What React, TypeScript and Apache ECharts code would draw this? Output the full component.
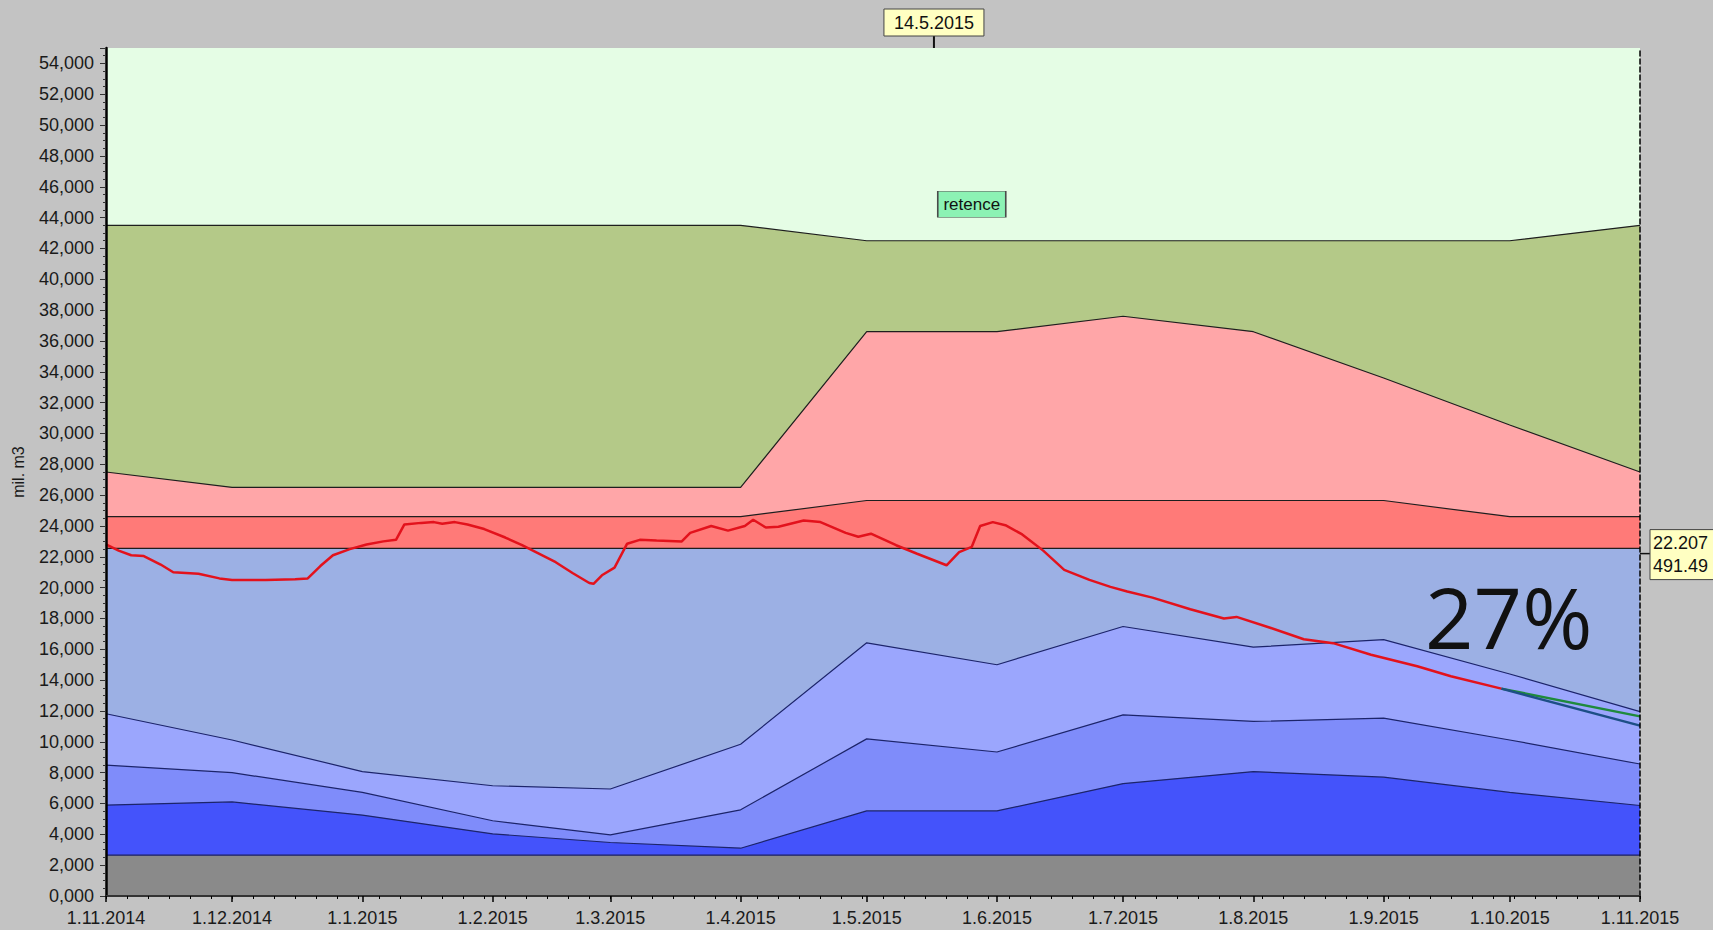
import React, { useEffect, useRef } from "react";
import * as echarts from "echarts";

// ---- data (values in mil. m3) ----
const monthDates = ["2014-11-01","2014-12-01","2015-01-01","2015-02-01","2015-03-01","2015-04-01","2015-05-01","2015-06-01","2015-07-01","2015-08-01","2015-09-01","2015-10-01","2015-11-01"];
const monthLabels = ["1.11.2014","1.12.2014","1.1.2015","1.2.2015","1.3.2015","1.4.2015","1.5.2015","1.6.2015","1.7.2015","1.8.2015","1.9.2015","1.10.2015","1.11.2015"];

const zoneOliveTop = [43.5,43.5,43.5,43.5,43.5,43.5,42.5,42.5,42.5,42.5,42.5,42.5,43.5];
const zonePinkTop = [27.5,26.5,26.5,26.5,26.5,26.5,36.6,36.6,37.6,36.6,33.6,30.55,27.5];
const zoneRedTop = [24.6,24.6,24.6,24.6,24.6,24.6,25.65,25.65,25.65,25.65,25.65,24.6,24.6];
const zoneSteelTop = [22.55,22.55,22.55,22.55,22.55,22.55,22.55,22.55,22.55,22.55,22.55,22.55,22.55];
const zoneLightBlueTop = [11.82,10.12,8.07,7.15,6.94,9.84,16.42,15.0,17.48,16.14,16.63,14.4,11.96];
const zoneMediumBlueTop = [8.49,8.0,6.72,4.88,3.96,5.59,10.19,9.34,11.75,11.32,11.54,10.12,8.56];
const zoneDarkBlueTop = [5.9,6.1,5.25,4.03,3.47,3.1,5.52,5.52,7.29,8.07,7.71,6.72,5.87];
const zoneGrayTop = [2.65,2.65,2.65,2.65,2.65,2.65,2.65,2.65,2.65,2.65,2.65,2.65,2.65];

const levelDates = ["2014-11-01","2014-11-04","2014-11-07","2014-11-10","2014-11-14","2014-11-17","2014-11-23","2014-11-28","2014-12-01","2014-12-09","2014-12-16","2014-12-19","2014-12-22","2014-12-25","2014-12-29","2015-01-02","2015-01-06","2015-01-09","2015-01-11","2015-01-15","2015-01-18","2015-01-20","2015-01-23","2015-01-26","2015-01-30","2015-02-04","2015-02-08","2015-02-12","2015-02-16","2015-02-20","2015-02-24","2015-02-25","2015-02-27","2015-03-02","2015-03-05","2015-03-08","2015-03-12","2015-03-18","2015-03-20","2015-03-25","2015-03-29","2015-04-02","2015-04-04","2015-04-07","2015-04-10","2015-04-16","2015-04-20","2015-04-26","2015-04-29","2015-05-02","2015-05-08","2015-05-13","2015-05-20","2015-05-23","2015-05-26","2015-05-28","2015-05-31","2015-06-03","2015-06-07","2015-06-12","2015-06-17","2015-06-23","2015-06-28","2015-07-02","2015-07-08","2015-07-17","2015-07-25","2015-07-28","2015-08-05","2015-08-13","2015-08-20","2015-08-29","2015-09-09","2015-09-17","2015-09-29"];
const levelValues = [22.8,22.4,22.1,22.05,21.5,21.0,20.9,20.6,20.5,20.5,20.55,20.6,21.4,22.1,22.5,22.8,23.0,23.1,24.1,24.2,24.25,24.15,24.25,24.1,23.8,23.25,22.75,22.2,21.65,20.95,20.3,20.25,20.8,21.3,22.85,23.1,23.05,23.0,23.55,24.0,23.7,24.0,24.4,23.9,23.95,24.35,24.25,23.55,23.3,23.5,22.75,22.2,21.45,22.3,22.65,24.0,24.25,24.05,23.45,22.4,21.15,20.5,20.05,19.75,19.35,18.6,18.0,18.1,17.4,16.65,16.4,15.65,14.9,14.25,13.45];

const forecastDates = ["2015-09-29","2015-11-01"];
const forecastGreen = [13.45, 11.65];
const forecastBlue = [13.45, 11.05];

const cursorDate = "2015-05-17";
const cursorLabel = "14.5.2015";
const cursorLevel = 22.207;
const cursorLevelLabel = "22.207\n491.49";
const retenceDate = "2015-05-26";
const retenceValue = 44.87;
const retenceLabel = "retence";
const percentLabel = "27%";
const minorTickDays = 5;

const FONT = '"Liberation Sans", Arial, sans-serif';

function ts(s: string): number {
  const [y, m, d] = s.split("-").map(Number);
  return new Date(y, m - 1, d).getTime();
}
const monthTs = monthDates.map(ts);

function zone(name: string, values: number[], fill: string, line: string, extra: any = {}) {
  return {
    type: "line",
    name,
    data: monthDates.map((d, i) => [ts(d), values[i]]),
    symbol: "none",
    silent: true,
    lineStyle: { color: line, width: 1.2 },
    areaStyle: { color: fill, opacity: 1, origin: "start" },
    ...extra,
  };
}

export default function App() {
  const ref = useRef<HTMLDivElement>(null);
  useEffect(() => {
    document.body.style.margin = "0";
    const chart = echarts.init(ref.current!, null, { renderer: "svg" });
    const xMin = monthTs[0];
    const xMax = monthTs[monthTs.length - 1];
    const dayMs = 86400000;
    const minorTs: number[] = [];
    for (let t = xMin; t <= xMax; t += minorTickDays * dayMs) minorTs.push(t);
    const option: any = {
      animation: false,
      backgroundColor: "#c3c3c3",
      grid: {
        left: 106, right: 73, top: 48, bottom: 34,
        show: true, backgroundColor: "#e5fde5", borderWidth: 0,
      },
      xAxis: [
        {
          type: "value", min: xMin, max: xMax, z: 10,
          axisLine: { show: true, lineStyle: { color: "#000", width: 2, type: [5, 3] } },
          axisTick: { show: true, customValues: monthTs, length: 6, lineStyle: { color: "#000", width: 1.5 } },
          axisLabel: {
            customValues: monthTs,
            margin: 13,
            color: "#1a1a1a",
            fontSize: 18,
            fontFamily: FONT,
            hideOverlap: false,
            formatter: (v: number) => {
              const i = monthTs.indexOf(v);
              return i >= 0 ? monthLabels[i] : "";
            },
          },
          splitLine: { show: false },
        },
        {
          type: "value", min: xMin, max: xMax, position: "top", z: 10,
          axisLine: { show: true, lineStyle: { color: "#333", width: 2 } },
          axisTick: { show: false }, axisLabel: { show: false }, splitLine: { show: false },
        },
        {
          type: "value", min: xMin, max: xMax, position: "bottom", z: 10,
          axisLine: { show: false },
          axisTick: { show: true, customValues: minorTs, length: 3, lineStyle: { color: "#000", width: 1 } },
          axisLabel: { show: false }, splitLine: { show: false },
        },
      ],
      yAxis: [
        {
          type: "value", min: 0, max: 55, interval: 2, z: 10,
          name: "mil. m3", nameLocation: "middle", nameGap: 80, nameRotate: 90,
          nameTextStyle: { color: "#1a1a1a", fontSize: 16, fontFamily: FONT },
          axisLine: { show: true, lineStyle: { color: "#000", width: 2.5 } },
          axisTick: { show: true, length: 6, lineStyle: { color: "#333", width: 1 } },
          minorTick: { show: true, splitNumber: 4, length: 3, lineStyle: { color: "#333" } },
          axisLabel: {
            margin: 12, color: "#1a1a1a", fontSize: 18, fontFamily: FONT,
            showMaxLabel: false,
            formatter: (v: number) => (v > 54 ? "" : v.toFixed(3).replace(".", ",")),
          },
          splitLine: { show: false },
        },
        {
          type: "value", min: 0, max: 55, position: "right", z: 10,
          axisLine: { show: true, lineStyle: { color: "#000", width: 1.5, type: [5, 3] } },
          axisTick: { show: false }, axisLabel: { show: false }, splitLine: { show: false },
        },
      ],
      series: [
        zone("olive", zoneOliveTop, "#b4c988", "#1e1e1e", {
          markPoint: {
            silent: true,
            data: [{
              coord: [ts(retenceDate), retenceValue],
              symbol: "rect",
              symbolSize: [68, 26],
              itemStyle: { color: "#8cf2b4", borderColor: "#4a4a4a", borderWidth: 1 },
              label: { show: true, position: "inside", formatter: retenceLabel, color: "#111", fontSize: 17, fontFamily: FONT },
            }],
          },
        }),
        zone("pink", zonePinkTop, "#ffa6a8", "#1e1e1e"),
        zone("red", zoneRedTop, "#ff7a78", "#1e1e1e"),
        zone("steel", zoneSteelTop, "#9cb0e4", "#1e1e1e"),
        zone("lightBlue", zoneLightBlueTop, "#9ba6fd", "#1c246a"),
        zone("mediumBlue", zoneMediumBlueTop, "#7f8cfa", "#1c246a"),
        zone("darkBlue", zoneDarkBlueTop, "#4453fb", "#1c246a"),
        zone("gray", zoneGrayTop, "#8a8a8a", "#1c2060"),
        {
          type: "line", name: "forecastGreen", silent: true, symbol: "none",
          data: forecastDates.map((d, i) => [ts(d), forecastGreen[i]]),
          lineStyle: { color: "#1f8a3c", width: 2.5 },
        },
        {
          type: "line", name: "forecastBlue", silent: true, symbol: "none",
          data: forecastDates.map((d, i) => [ts(d), forecastBlue[i]]),
          lineStyle: { color: "#1d4f86", width: 2.5 },
        },
        {
          type: "line", name: "level", silent: true, symbol: "none",
          data: levelDates.map((d, i) => [ts(d), levelValues[i]]),
          lineStyle: { color: "#e3121c", width: 2.5 },
        },
      ],
    };
    chart.setOption(option);
    const xc = chart.convertToPixel({ xAxisIndex: 0 }, ts(cursorDate)) as number;
    const yc = chart.convertToPixel({ yAxisIndex: 0 }, cursorLevel) as number;
    const gridTop = 48;
    const gridRight = 1713 - 73;
    chart.setOption({
      graphic: [
        { type: "line", shape: { x1: xc, y1: 36, x2: xc, y2: gridTop }, style: { stroke: "#111", lineWidth: 2 }, silent: true },
        { type: "rect", shape: { x: xc - 50, y: 9, width: 100, height: 27 }, style: { fill: "#ffffc2", stroke: "#444", lineWidth: 1 }, silent: true },
        { type: "text", x: xc, y: 23, style: { text: cursorLabel, fill: "#111", font: `18px ${FONT}`, align: "center", verticalAlign: "middle", textAlign: "center", textVerticalAlign: "middle" }, silent: true },
        { type: "line", shape: { x1: gridRight, y1: yc, x2: gridRight + 10, y2: yc }, style: { stroke: "#111", lineWidth: 1.5 }, silent: true },
        { type: "rect", shape: { x: gridRight + 10, y: yc - 24, width: 80, height: 50 }, style: { fill: "#ffffc2", stroke: "#444", lineWidth: 1 }, silent: true },
        { type: "text", x: gridRight + 13, y: yc + 1, style: { text: cursorLevelLabel, fill: "#111", font: `18px ${FONT}`, lineHeight: 23, align: "left", verticalAlign: "middle", textAlign: "left", textVerticalAlign: "middle" }, silent: true },
        { type: "text", x: 1425, y: 616, style: { text: percentLabel, fill: "#111", font: `85px "Open Sans", sans-serif`, align: "left", verticalAlign: "middle", textAlign: "left", textVerticalAlign: "middle" }, silent: true, z: 100 },
      ],
    });
    return () => chart.dispose();
  }, []);
  return <div ref={ref} style={{ width: 1713, height: 930 }} />;
}
